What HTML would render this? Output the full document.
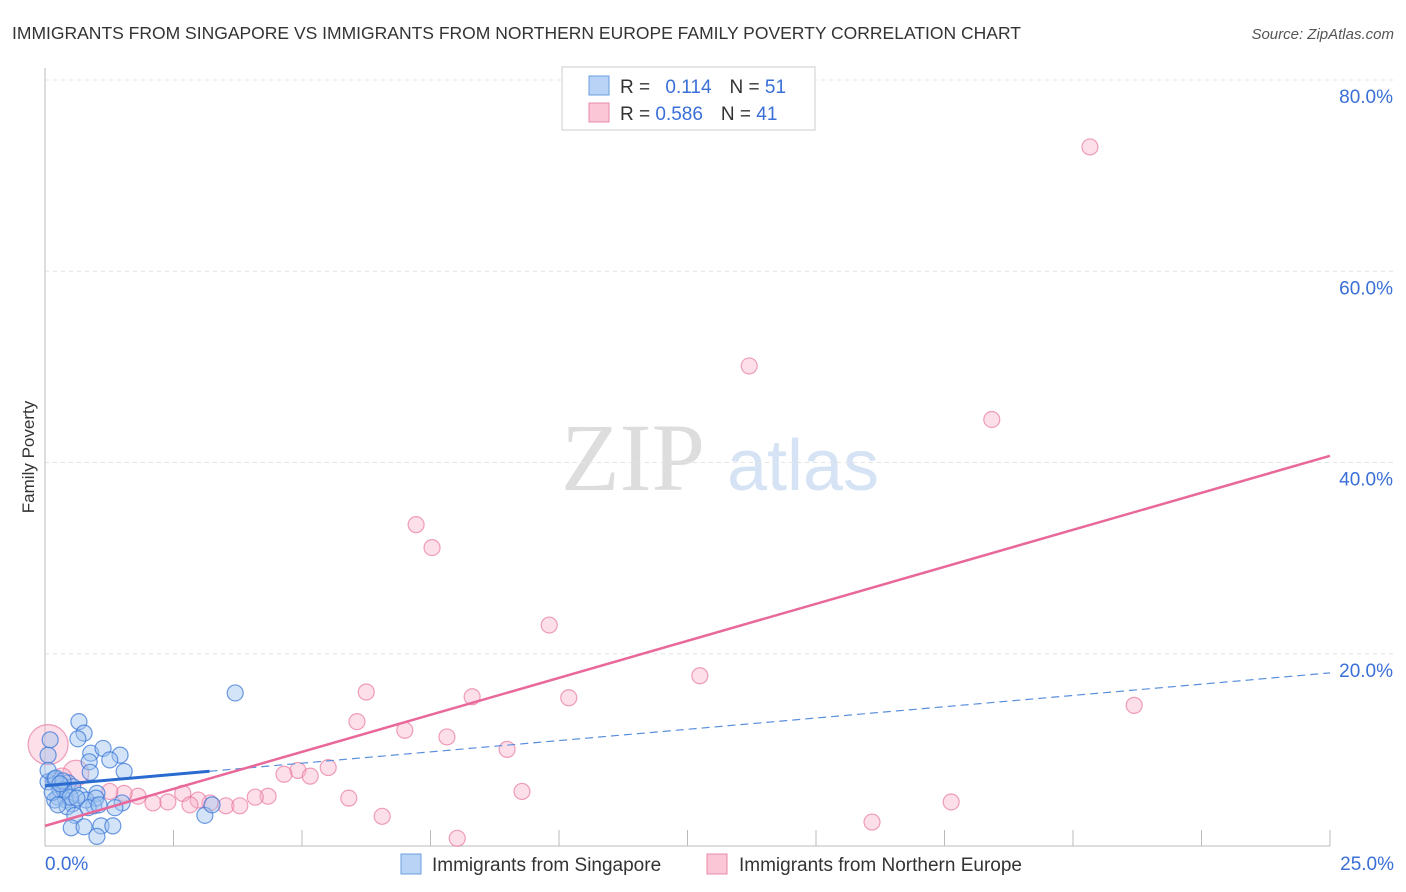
<!DOCTYPE html>
<html><head><meta charset="utf-8"><style>
body{margin:0;background:#fff;font-family:"Liberation Sans",sans-serif}
#c{position:relative;width:1406px;height:892px;overflow:hidden}
</style></head><body>
<div id="c">
<svg id="s" width="1406" height="892" xmlns="http://www.w3.org/2000/svg">
<text x="12" y="39" font-size="17.5" fill="#333">IMMIGRANTS FROM SINGAPORE VS IMMIGRANTS FROM NORTHERN EUROPE FAMILY POVERTY CORRELATION CHART</text>
<text x="1394" y="39" font-size="15" fill="#555" text-anchor="end" font-style="italic">Source: ZipAtlas.com</text>
<text x="34" y="457" font-size="17" fill="#333" text-anchor="middle" transform="rotate(-90 34 457)">Family Poverty</text>
<g><text x="633" y="490" font-size="96" fill="#ddd" text-anchor="middle" font-family="Liberation Serif,serif">ZIP</text><text x="803" y="490" font-size="72" fill="#d6e3f5" text-anchor="middle">atlas</text></g>
<g id="grid"></g><g id="pts"></g><g id="lines"></g>
<g>
<rect x="562" y="67" width="253" height="63" fill="#fff" stroke="#ccc"/>
<rect x="589" y="76" width="20" height="19" fill="#b8d3f5" stroke="#6a9de0"/>
<rect x="589" y="103" width="20" height="19" fill="#fbc6d6" stroke="#e88aa8"/>
<text x="620" y="93" font-size="19" fill="#333">R = <tspan fill="#3a6fd8" dx="10">0.114</tspan><tspan dx="18">N = </tspan><tspan fill="#3a6fd8">51</tspan></text>
<text x="620" y="120" font-size="19" fill="#333">R = <tspan fill="#3a6fd8">0.586</tspan><tspan dx="18">N = </tspan><tspan fill="#3a6fd8">41</tspan></text>
</g>
<g>
<rect x="401" y="854" width="20" height="20" fill="#b8d3f5" stroke="#6a9de0"/>
<text x="432" y="871" font-size="19" fill="#333">Immigrants from Singapore</text>
<rect x="707" y="854" width="20" height="20" fill="#fbc6d6" stroke="#e88aa8"/>
<text x="739" y="871" font-size="19" fill="#333">Immigrants from Northern Europe</text>
</g>
</svg>
</div>
<script>
const yTicks=[20,40,60,80];
const yTickLabels=["20.0%","40.0%","60.0%","80.0%"];
const xTicks=[0,2.5,5,7.5,10,12.5,15,17.5,20,22.5,25];
const sgX=[3.70,0.66,0.76,0.64,0.89,1.46,1.13,0.86,1.26,1.54,0.88,0.16,0.06,0.19,0.45,0.33,0.54,0.25,0.41,0.19,0.53,0.43,1.01,0.95,1.50,1.36,0.58,0.51,0.76,1.09,1.32,1.01,3.11,3.25,0.06,0.10,0.06,0.29,0.68,0.21,0.37,0.14,0.49,0.25,0.80,0.99,0.84,1.05,0.62,0.35,0.29];
const sgY=[15.9,12.9,11.7,11.1,9.6,9.4,10.1,8.7,8.9,7.7,7.6,6.8,6.6,6.9,6.5,6.2,6.1,5.0,4.7,4.7,4.3,4.0,5.4,4.1,4.4,3.9,3.1,1.8,1.9,2.0,2.0,0.9,3.1,4.2,9.4,11.0,7.8,5.8,5.2,7.0,5.8,5.5,5.0,4.2,4.7,4.9,3.9,4.2,4.9,6.7,6.4];
const neX=[20.33,13.70,18.42,7.22,7.53,9.81,12.74,6.25,8.31,10.19,21.19,6.07,7.00,7.82,8.99,0.06,0.60,0.33,5.51,4.92,4.65,5.16,4.34,4.09,5.91,9.28,3.21,3.52,3.79,2.98,2.68,2.39,2.10,1.81,1.54,1.26,6.56,8.02,16.09,17.63,2.82];
const neY=[73.0,50.1,44.5,33.5,31.1,23.0,17.7,16.0,15.5,15.4,14.6,12.9,12.0,11.3,10.0,10.5,7.5,7.0,8.1,7.8,7.4,7.2,5.1,5.0,4.9,5.6,4.4,4.1,4.1,4.7,5.4,4.5,4.4,5.1,5.4,5.6,3.0,0.7,2.4,4.5,4.2];
const neR=[8,8,8,8,8,8,8,8,8,8,8,8,8,8,8,20,13,10,8,8,8,8,8,8,8,8,8,8,8,8,8,8,8,8,8,8,8,8,8,8,8];
const sgTrend=[6.2,18.0];
const neTrend=[2.0,40.7];
const sgSolidEnd=3.2;
const NS="http://www.w3.org/2000/svg";
const X=v=>45+v/25*1285, Y=v=>845-v*9.5625;
function mk(t,a,p){const e=document.createElementNS(NS,t);for(const k in a)e.setAttribute(k,a[k]);p.appendChild(e);return e;}
const grid=document.getElementById('grid'),pts=document.getElementById('pts'),lines=document.getElementById('lines');
yTicks.forEach((t,i)=>{
 const l=mk('line',{x1:45,x2:1394,y1:Y(t),y2:Y(t),stroke:'#e4e4e4','stroke-dasharray':'4,4'},grid);
 
 
 const tx=mk('text',{x:1393,y:Y(t)+23,'font-size':19,fill:'#3a6fd8','text-anchor':'end'},grid);
 tx.textContent=yTickLabels[i];
 
 
});
const ax=mk('line',{x1:45,x2:45,y1:68,y2:846,stroke:'#bbb'},grid);


const bx=mk('line',{x1:45,x2:1330,y1:846,y2:846,stroke:'#bbb'},grid);


xTicks.forEach(t=>{if(t===0)return;
 const l=mk('line',{x1:X(t),x2:X(t),y1:830,y2:846,stroke:'#bbb'},grid);
 
 
});
const xl0=mk('text',{x:45,y:870,'font-size':19,fill:'#3a6fd8'},grid);xl0.textContent='0.0%';


const xl1=mk('text',{x:1394,y:870,'font-size':19,fill:'#3a6fd8','text-anchor':'end'},grid);xl1.textContent='25.0%';


neX.forEach((x,i)=>{
 const c=mk('circle',{cx:X(x),cy:Y(neY[i]),r:neR[i],fill:'rgba(248,175,200,0.4)',stroke:'rgba(232,120,160,0.7)','stroke-width':1.2},pts);
 
 
});
sgX.forEach((x,i)=>{
 const c=mk('circle',{cx:X(x),cy:Y(sgY[i]),r:8,fill:'rgba(160,196,240,0.45)',stroke:'rgba(60,120,215,0.75)','stroke-width':1.2},pts);
 
 
});
const sy=x=>sgTrend[0]+(sgTrend[1]-sgTrend[0])*x/25;
const d=mk('line',{x1:X(sgSolidEnd),y1:Y(sy(sgSolidEnd)),x2:X(25),y2:Y(sgTrend[1]),stroke:'#5a8fdc','stroke-width':1.2,'stroke-dasharray':'8,5'},lines);


const s=mk('line',{x1:X(0),y1:Y(sgTrend[0]),x2:X(sgSolidEnd),y2:Y(sy(sgSolidEnd)),stroke:'#2a6bd0','stroke-width':3},lines);


const p=mk('line',{x1:X(0),y1:Y(neTrend[0]),x2:X(25),y2:Y(neTrend[1]),stroke:'#e8689a','stroke-width':2.5},lines);


</script>
</body></html>
